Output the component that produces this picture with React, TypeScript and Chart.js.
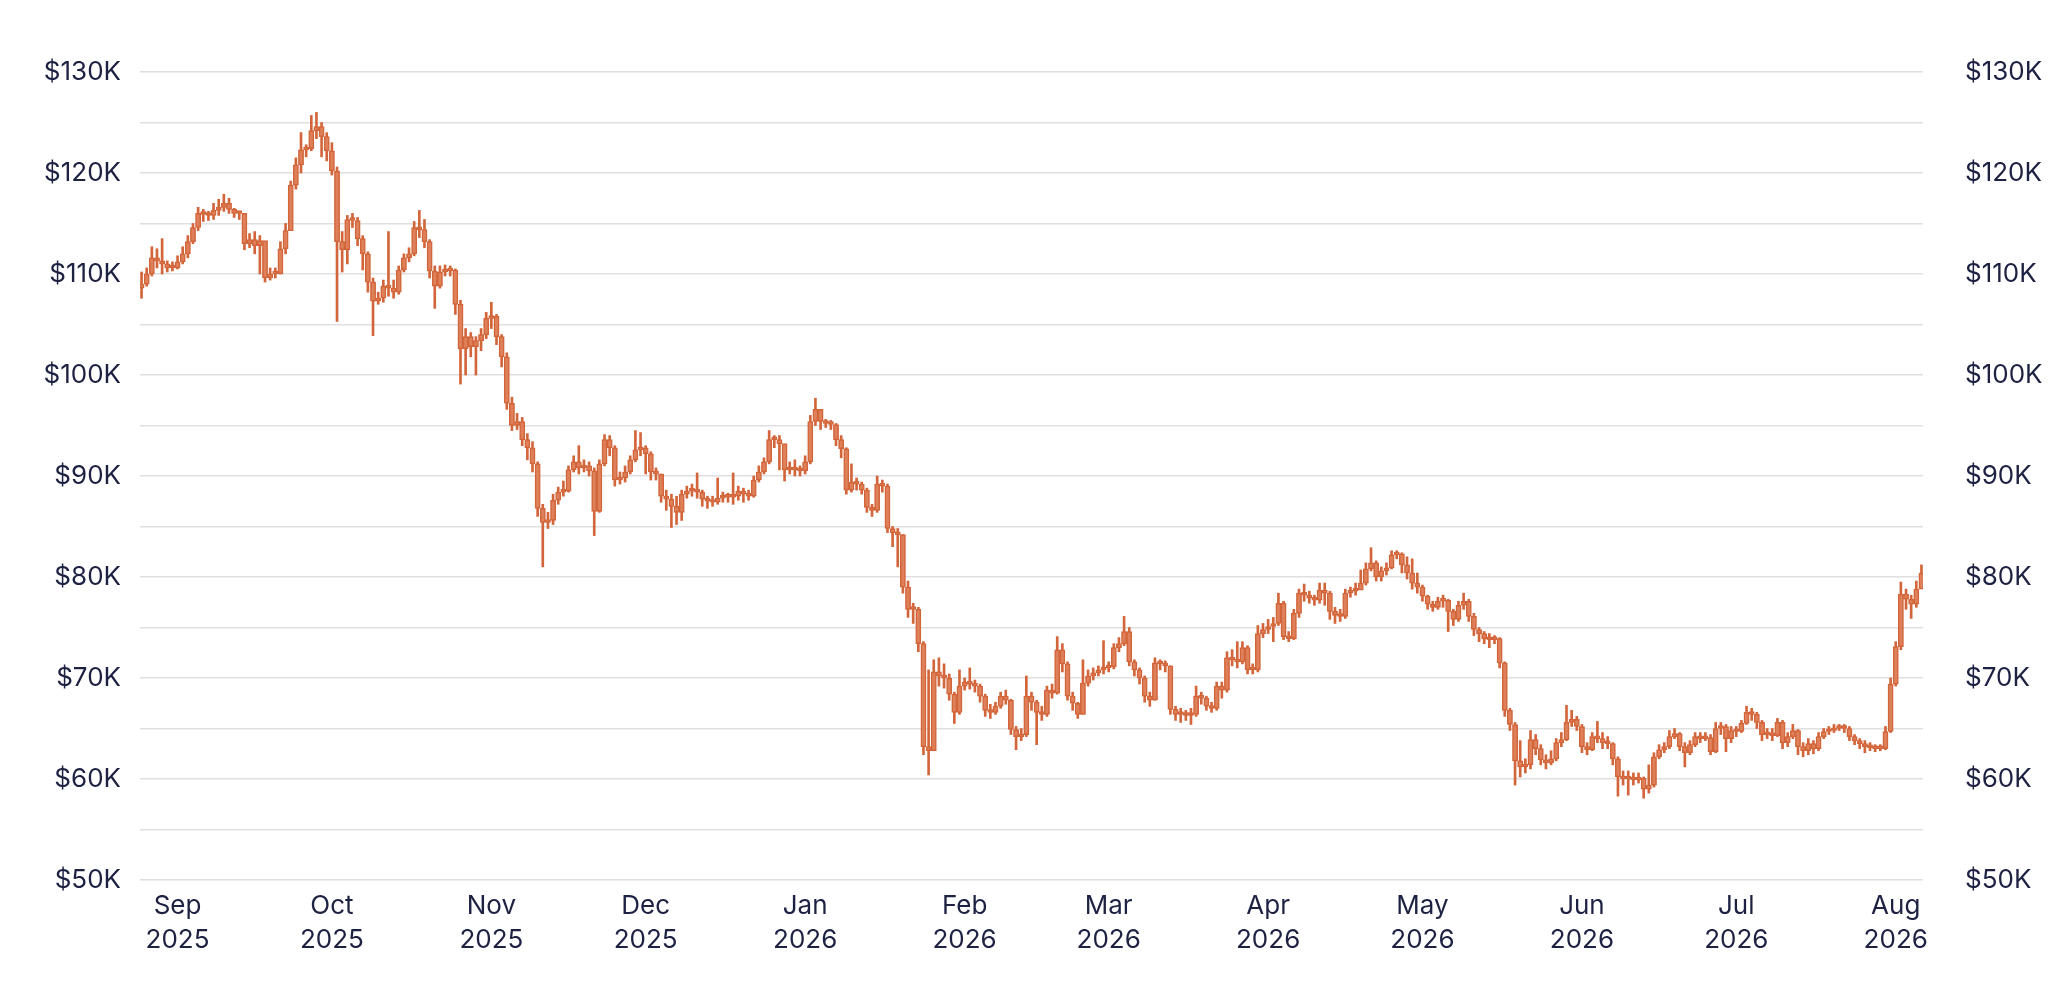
import { useEffect, useRef } from "react"
import { Chart, registerables } from "chart.js"

Chart.register(...registerables)

// daily prices in $K, day 0 = 2025-08-25
const firstOpen = 108.6

const closes = [
  109.0, 110.0, 111.6, 111.3, 111.0, 110.6, 110.6, 111.2, 112.0, 113.2,
  114.6, 116.0, 115.9, 115.8, 116.3, 116.6, 117.0, 116.4, 116.0, 116.0,
  113.0, 113.4, 112.8, 113.3, 109.6, 110.0, 110.0, 112.5, 114.3, 118.8,
  120.8, 122.3, 122.4, 124.2, 124.6, 123.6, 122.2, 120.2, 113.2, 112.4,
  115.4, 115.3, 113.5, 112.0, 109.2, 107.3, 107.6, 108.8, 108.6, 108.2,
  110.4, 111.6, 112.0, 114.6, 114.4, 113.2, 110.3, 108.8, 110.2, 110.3,
  110.4, 107.0, 102.6, 103.8, 102.8, 103.4, 104.0, 105.6, 105.8, 103.8,
  101.8, 97.2, 95.0, 95.4, 93.6, 92.8, 91.2, 86.8, 85.4, 85.6,
  87.6, 88.4, 88.5, 90.6, 91.4, 90.8, 91.0, 90.5, 86.5, 91.2,
  93.6, 92.8, 89.6, 89.8, 90.4, 91.6, 92.6, 92.8, 92.2, 90.4,
  90.2, 88.0, 87.7, 87.0, 86.4, 88.2, 88.5, 88.6, 88.4, 87.7,
  87.5, 87.4, 87.8, 88.0, 87.9, 88.0, 88.5, 88.2, 88.0, 89.6,
  90.4, 91.4, 93.6, 93.6, 93.2, 90.6, 90.8, 90.6, 90.5, 91.4,
  95.4, 96.6, 95.4, 95.2, 95.1, 93.6, 92.7, 88.6, 89.4, 89.2,
  88.6, 86.9, 86.6, 89.2, 89.0, 84.8, 84.4, 84.2, 79.0, 76.8,
  76.8, 73.4, 63.2, 62.8, 70.6, 70.2, 70.0, 68.4, 66.6, 69.2,
  69.6, 69.4, 69.2, 68.2, 66.8, 66.6, 67.2, 68.2, 67.8, 64.9,
  64.2, 64.4, 68.2, 67.6, 66.6, 66.4, 68.8, 68.5, 72.8, 71.4,
  68.2, 67.5, 66.4, 69.5, 70.2, 70.5, 70.8, 71.0, 71.1, 73.0,
  73.4, 74.6, 71.6, 70.8, 70.0, 68.2, 67.8, 71.5, 71.4, 71.2,
  66.9, 66.4, 66.5, 66.3, 66.4, 68.2, 68.0, 67.2, 67.0, 69.2,
  68.8, 72.0, 71.8, 71.6, 73.0, 70.8, 70.8, 74.4, 74.8, 75.1,
  75.4, 77.4, 74.1, 73.9, 76.4, 78.4, 78.2, 77.9, 77.7, 78.7,
  78.4, 76.6, 76.2, 76.1, 78.4, 78.6, 78.7, 79.4, 80.8, 81.4,
  80.0, 80.6, 80.9, 82.2, 82.3, 81.2, 80.4, 79.4, 79.0, 78.1,
  77.3, 77.0, 77.6, 77.7, 76.6, 75.8, 77.2, 77.6, 76.1, 74.8,
  74.4, 73.9, 73.8, 73.9, 71.5, 66.8, 65.4, 61.8, 61.2, 61.4,
  63.9, 63.0, 61.9, 61.6, 62.0, 63.6, 63.9, 65.6, 65.9, 65.2,
  63.2, 62.9, 64.2, 64.0, 63.6, 63.5, 62.0, 60.2, 60.0, 60.2,
  59.9, 60.1, 59.0, 59.4, 62.2, 62.9, 63.2, 64.2, 64.5, 63.2,
  62.6, 63.4, 64.2, 64.0, 64.1, 62.7, 65.0, 65.2, 64.0, 64.8,
  64.7, 65.5, 66.6, 66.4, 65.6, 64.4, 64.5, 64.3, 65.6, 63.6,
  64.2, 64.8, 63.2, 62.8, 63.5, 63.0, 64.2, 64.7, 64.8, 65.0,
  65.1, 65.0, 64.2, 63.8, 63.5, 63.2, 63.1, 63.0, 63.0, 64.7,
  69.4, 73.1, 78.3, 77.8, 77.3, 78.8, 80.4,
]

const highs = [
  110.2, 110.6, 112.7, 112.5, 113.5, 111.3, 111.2, 111.8, 112.7, 113.8,
  115.0, 116.6, 116.4, 116.2, 117.0, 117.4, 117.9, 117.5, 116.5, 116.2,
  116.0, 114.0, 114.2, 113.8, 113.0, 110.6, 110.6, 113.2, 115.0, 119.2,
  121.5, 124.0, 122.8, 125.7, 126.0, 125.0, 124.0, 123.0, 120.6, 114.2,
  115.8, 116.0, 115.6, 113.8, 112.2, 109.6, 108.2, 109.4, 114.2, 109.4,
  110.8, 112.0, 112.6, 115.2, 116.3, 115.4, 113.4, 110.8, 110.8, 110.9,
  110.8, 110.5, 107.4, 104.6, 104.2, 103.8, 104.6, 106.2, 107.2, 106.0,
  104.0, 102.2, 97.8, 96.2, 95.8, 94.2, 93.4, 91.4, 87.2, 86.4,
  88.2, 88.9, 89.5, 91.0, 92.0, 93.0, 91.6, 91.4, 90.8, 91.6,
  94.1, 94.0, 93.0, 90.4, 91.0, 92.0, 94.5, 94.3, 93.0, 92.4,
  90.8, 90.2, 88.6, 88.2, 88.0, 88.6, 89.0, 89.2, 90.3, 88.6,
  88.0, 88.0, 89.8, 88.4, 88.3, 90.3, 89.0, 88.8, 88.6, 90.0,
  91.0, 91.8, 94.5, 94.0, 94.0, 92.0, 91.4, 91.6, 91.0, 92.0,
  96.0, 97.7, 96.4, 95.6, 95.5, 95.2, 94.0, 92.8, 91.2, 89.8,
  89.4, 88.8, 87.2, 90.0, 89.6, 89.2, 85.0, 84.8, 84.2, 79.6,
  77.4, 77.0, 73.6, 70.8, 71.8, 72.0, 71.4, 70.4, 68.6, 70.8,
  70.0, 71.0, 69.8, 69.4, 68.4, 67.4, 67.6, 68.6, 68.8, 67.9,
  65.2, 65.0, 70.2, 68.6, 67.8, 67.2, 69.2, 69.4, 74.1, 73.4,
  71.6, 68.6, 67.6, 71.8, 70.8, 71.0, 71.2, 73.7, 71.6, 73.4,
  74.0, 76.1, 75.0, 71.8, 71.0, 70.2, 68.6, 72.0, 71.8, 71.7,
  71.2, 67.2, 67.0, 66.8, 67.0, 69.2, 68.6, 68.2, 67.6, 69.6,
  69.6, 72.6, 72.8, 73.6, 73.6, 73.2, 71.4, 75.2, 75.4, 75.8,
  76.0, 78.4, 77.6, 74.6, 76.8, 78.8, 79.3, 78.6, 78.2, 79.4,
  79.4, 78.6, 77.0, 76.8, 78.8, 79.0, 79.4, 80.7, 81.4, 82.9,
  81.6, 81.0, 81.4, 82.6, 82.6, 82.4, 82.0, 81.8, 80.4, 79.2,
  78.2, 77.6, 78.0, 78.2, 77.8, 76.8, 77.6, 78.4, 77.8, 76.4,
  75.0, 74.6, 74.4, 74.2, 74.0, 71.6, 67.0, 65.6, 63.8, 62.0,
  64.8, 64.4, 63.4, 62.4, 62.8, 64.0, 64.6, 67.3, 66.8, 66.2,
  65.4, 63.6, 64.6, 65.7, 64.6, 64.2, 63.6, 62.2, 60.8, 60.8,
  60.6, 60.6, 60.2, 61.4, 62.6, 63.4, 63.6, 64.8, 65.0, 64.6,
  63.6, 63.8, 64.6, 64.6, 64.6, 64.4, 65.6, 65.6, 65.4, 65.2,
  65.2, 65.8, 67.2, 67.0, 66.6, 65.8, 65.0, 65.0, 66.0, 65.8,
  64.6, 65.4, 64.9, 63.6, 64.0, 63.8, 64.6, 65.0, 65.2, 65.4,
  65.4, 65.4, 65.2, 64.4, 64.0, 63.8, 63.6, 63.4, 63.4, 65.2,
  70.0, 73.6, 79.5, 78.8, 78.2, 79.6, 81.2,
]

const lows = [
  107.6, 108.8, 109.8, 110.6, 110.0, 110.2, 110.3, 110.5, 111.0, 111.6,
  113.0, 114.3, 115.2, 115.3, 115.4, 115.8, 116.2, 116.0, 115.6, 115.4,
  112.4, 112.6, 112.0, 110.0, 109.2, 109.4, 109.6, 110.0, 112.0, 114.3,
  118.4, 120.0, 121.6, 122.2, 123.4, 121.6, 121.2, 119.8, 105.3, 110.2,
  111.0, 114.6, 112.8, 110.4, 108.2, 103.9, 107.0, 107.2, 107.8, 107.6,
  108.0, 110.2, 111.2, 111.8, 113.6, 112.6, 109.6, 106.6, 108.6, 109.8,
  109.8, 106.0, 99.1, 100.0, 101.8, 100.0, 102.4, 103.6, 104.6, 103.0,
  100.8, 96.6, 94.5, 94.6, 93.0, 91.6, 90.4, 86.0, 81.0, 84.8,
  85.2, 87.2, 88.0, 88.4, 90.4, 90.2, 90.4, 90.0, 84.1, 86.4,
  91.0, 92.0, 89.0, 89.2, 89.4, 90.2, 91.4, 92.0, 90.2, 89.6,
  89.6, 87.4, 86.6, 84.9, 85.2, 85.6, 87.8, 88.0, 87.8, 87.0,
  86.8, 87.0, 87.2, 87.4, 87.4, 87.2, 87.6, 87.4, 87.6, 87.9,
  89.4, 90.2, 91.2, 92.8, 90.6, 89.5, 90.2, 90.0, 90.0, 90.2,
  91.2, 95.0, 94.6, 94.8, 94.6, 93.0, 91.8, 88.2, 88.4, 88.6,
  88.2, 86.4, 86.0, 86.4, 88.4, 84.4, 83.0, 81.0, 78.4, 76.0,
  75.4, 72.6, 62.4, 60.4, 62.8, 69.2, 69.0, 67.8, 65.5, 66.4,
  68.8, 68.9, 68.6, 67.6, 66.2, 66.0, 66.4, 67.0, 67.4, 64.4,
  62.9, 63.8, 64.2, 66.8, 63.4, 65.8, 66.2, 68.0, 68.4, 70.6,
  67.8, 66.8, 66.0, 66.4, 69.2, 69.8, 70.2, 70.4, 70.6, 70.9,
  72.6, 73.2, 71.2, 70.2, 69.4, 67.6, 67.2, 67.8, 70.8, 70.6,
  66.4, 65.8, 65.6, 65.8, 65.4, 66.2, 67.4, 66.8, 66.6, 66.8,
  68.0, 68.6, 71.2, 71.0, 71.4, 70.4, 70.4, 70.6, 74.0, 74.4,
  73.6, 75.2, 73.8, 73.6, 73.8, 76.0, 77.6, 77.4, 77.2, 77.4,
  77.2, 75.8, 75.4, 75.6, 75.9, 78.0, 78.2, 78.8, 79.2, 80.6,
  79.6, 79.6, 80.2, 80.8, 81.8, 80.4, 79.8, 78.8, 78.4, 77.6,
  76.8, 76.6, 76.8, 77.0, 74.6, 75.2, 75.6, 76.8, 75.6, 74.2,
  73.6, 73.4, 73.0, 73.4, 71.0, 66.2, 64.8, 59.4, 60.2, 60.6,
  61.0, 62.4, 61.4, 61.0, 61.4, 61.8, 63.2, 63.8, 65.2, 64.8,
  62.6, 62.4, 62.8, 63.6, 63.0, 63.0, 61.4, 58.3, 59.4, 58.4,
  59.4, 59.6, 58.1, 58.6, 59.2, 62.0, 62.6, 63.0, 64.0, 62.8,
  61.2, 62.4, 63.2, 63.6, 63.8, 62.4, 62.6, 64.4, 62.7, 63.6,
  64.2, 64.6, 65.4, 65.8, 65.0, 63.8, 64.0, 63.8, 64.2, 63.0,
  63.2, 64.0, 62.4, 62.2, 62.4, 62.5, 62.8, 64.0, 64.4, 64.6,
  64.8, 64.6, 63.8, 63.4, 63.0, 62.6, 62.8, 62.7, 62.8, 62.9,
  64.6, 69.2, 72.8, 76.8, 75.9, 77.0, 79.3,
]

// day offsets of the 1st of each month
const monthTicks = [7, 37, 68, 98, 129, 160, 188, 219, 249, 280, 310, 341]
const monthLabels = ["Sep", "Oct", "Nov", "Dec", "Jan", "Feb", "Mar", "Apr", "May", "Jun", "Jul", "Aug"]
const yearLabels = ["2025", "2025", "2025", "2025", "2026", "2026", "2026", "2026", "2026", "2026", "2026", "2026"]

const priceTicks = [50, 60, 70, 80, 90, 100, 110, 120, 130]

const ORANGE = "#d3653a"
const TEXT = "#1d2142"
const FONT = { family: "Inter, 'Noto Sans', sans-serif", size: 26 }

export default function App() {
  const chartRef = useRef<HTMLCanvasElement>(null)
  const chartInstance = useRef<Chart | null>(null)

  useEffect(() => {
    if (!chartRef.current) return
    if (chartInstance.current) chartInstance.current.destroy()

    const ctx = chartRef.current.getContext("2d")
    if (!ctx) return

    const bodies = closes.map((c, i) => ({ x: i, y: [i === 0 ? firstOpen : closes[i - 1], c] }))
    const wicks = closes.map((_, i) => ({ x: i, y: [lows[i], highs[i]] }))

    chartInstance.current = new Chart(ctx, {
      type: "bar",
      data: {
        datasets: [
          {
            label: "range",
            data: wicks as any,
            backgroundColor: ORANGE,
            barThickness: 2,
            grouped: false,
            order: 2,
          },
          {
            label: "body",
            data: bodies as any,
            backgroundColor: "rgba(222, 128, 90, 1)",
            borderColor: ORANGE,
            borderWidth: 1.5,
            borderSkipped: false,
            barThickness: 5.2,
            minBarLength: 2.8,
            grouped: false,
            order: 1,
          },
        ],
      },
      options: {
        animation: false,
        responsive: true,
        maintainAspectRatio: false,
        layout: { padding: { top: 72, bottom: 0, left: 0, right: 0 } },
        plugins: {
          legend: { display: false },
          tooltip: { enabled: false },
        },
        scales: {
          x: {
            type: "linear",
            offset: false,
            min: -0.3,
            max: 346.3,
            grid: { display: false },
            border: { display: false },
            afterBuildTicks: (scale: any) => {
              scale.ticks = monthTicks.map((v) => ({ value: v }))
            },
            afterFit: (scale: any) => {
              scale.height = 117
            },
            ticks: {
              autoSkip: false,
              maxRotation: 0,
              padding: 1,
              color: TEXT,
              font: { ...FONT, lineHeight: 1.3 },
              callback: (_v: any, i: number) => [monthLabels[i], yearLabels[i]],
            },
          },
          y: {
            position: "left",
            min: 50,
            max: 130,
            grid: { color: "#e0e0e0", lineWidth: 1.5, drawTicks: false },
            border: { display: false },
            afterFit: (scale: any) => {
              scale.width = 140
            },
            ticks: {
              stepSize: 5,
              padding: 19,
              color: TEXT,
              font: FONT,
              callback: (v: any) => (priceTicks.includes(v) ? `$${v}K` : ""),
            },
          },
          y2: {
            position: "right",
            min: 50,
            max: 130,
            grid: { display: false },
            border: { display: false },
            afterFit: (scale: any) => {
              scale.width = 125
            },
            ticks: {
              stepSize: 5,
              padding: 34,
              color: TEXT,
              font: FONT,
              callback: (v: any) => (priceTicks.includes(v) ? `$${v}K` : ""),
            },
          },
        },
      },
    })

    return () => {
      if (chartInstance.current) {
        chartInstance.current.destroy()
        chartInstance.current = null
      }
    }
  }, [])

  return (
    <div style={{ position: "fixed", left: 0, top: 0, width: 2048, height: 997, background: "#fff" }}>
      <canvas ref={chartRef}></canvas>
    </div>
  )
}
